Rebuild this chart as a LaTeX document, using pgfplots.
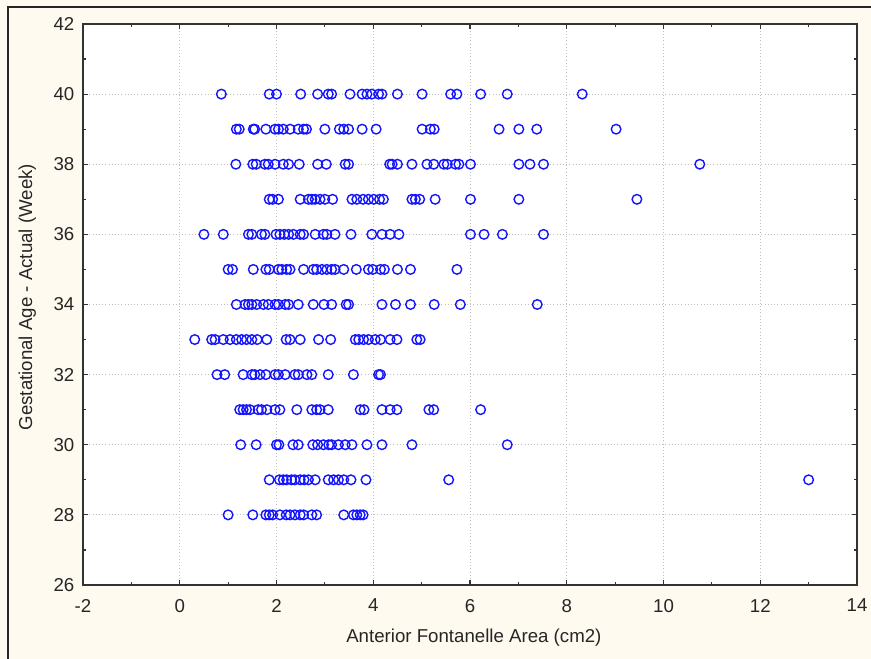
\documentclass[border=0pt]{standalone}
\usepackage{pgfplots}
\pgfplotsset{compat=1.18}
\usepackage{fontspec}
\setmainfont{Liberation Sans}
\definecolor{cream}{RGB}{255,250,240}
\definecolor{ptblue}{RGB}{20,20,255}
\begin{document}
\begin{tikzpicture}[x=1pt,y=1pt]
\fill[cream] (0,0) rectangle (653.25,494.25);
\useasboundingbox (0,0) rectangle (653.25,494.25);
\draw[line width=1.2pt,black!85] (6,0) -- (6,489) -- (653.25,489);
\begin{axis}[
  at={(62.25pt,55.5pt)}, anchor=south west,
  scale only axis, width=580.5pt, height=420.75pt,
  xmin=-2, xmax=14, ymin=26, ymax=42,
  xtick={-2,0,...,14}, ytick={26,28,...,42},
  minor xtick={-1,1,...,13}, minor ytick={27,29,...,41},
  tick align=inside, tick pos=both,
  major tick length=4pt, minor tick length=2.5pt,
  every tick/.style={black!80, line width=0.9pt},
  axis line style={black!80, line width=1.1pt},
  axis background/.style={fill=white},
  grid=major,
  major grid style={gray!50, dotted, line width=0.6pt},
  ticklabel style={font=\fontsize{14}{16}\selectfont, text=black!85},
  /pgf/number format/assume math mode=true,
  xticklabel style={yshift=-7pt},
  yticklabel style={xshift=-3pt},
  xlabel={Anterior Fontanelle Area (cm2)},
  ylabel={Gestational Age - Actual (Week)},
  label style={font=\fontsize{14}{16}\selectfont, text=black!85},
  xlabel style={at={(axis description cs:0.505,-0.093)}, anchor=center},
  ylabel style={at={(axis description cs:-0.072,0.513)}, anchor=center, rotate=0},
]
\addplot[only marks, mark=o, mark size=3.6pt, mark options={ptblue, line width=1.05pt}] coordinates {
(0.86,40)(1.85,40)(2.0,40)(2.5,40)(2.85,40)(3.07,40)(3.14,40)(3.52,40)(3.77,40)(3.87,40)(3.97,40)(4.11,40)(4.18,40)(4.5,40)(5.01,40)(5.6,40)(5.73,40)(6.22,40)(6.77,40)(8.32,40)
(1.17,39)(1.23,39)(1.52,39)(1.55,39)(1.78,39)(1.97,39)(2.04,39)(2.14,39)(2.28,39)(2.45,39)(2.56,39)(2.62,39)(3.0,39)(3.3,39)(3.39,39)(3.49,39)(3.77,39)(4.06,39)(5.01,39)(5.18,39)(5.26,39)(6.6,39)(7.01,39)(7.38,39)(9.02,39)
(1.16,38)(1.51,38)(1.58,38)(1.76,38)(1.83,38)(1.97,38)(2.14,38)(2.25,38)(2.47,38)(2.85,38)(3.03,38)(3.42,38)(3.49,38)(4.34,38)(4.39,38)(4.5,38)(4.8,38)(5.11,38)(5.25,38)(5.46,38)(5.53,38)(5.7,38)(5.77,38)(6.01,38)(7.01,38)(7.24,38)(7.52,38)(10.75,38)
(1.85,37)(1.92,37)(2.04,37)(2.49,37)(2.66,37)(2.73,37)(2.8,37)(2.9,37)(3.0,37)(3.16,37)(3.56,37)(3.66,37)(3.79,37)(3.9,37)(4.01,37)(4.13,37)(4.21,37)(4.8,37)(4.87,37)(4.96,37)(5.28,37)(6.01,37)(7.01,37)(9.45,37)
(0.5,36)(0.9,36)(1.42,36)(1.49,36)(1.69,36)(1.76,36)(1.99,36)(2.07,36)(2.16,36)(2.25,36)(2.35,36)(2.49,36)(2.56,36)(2.8,36)(2.97,36)(3.04,36)(3.21,36)(3.54,36)(3.97,36)(4.18,36)(4.35,36)(4.53,36)(6.01,36)(6.29,36)(6.67,36)(7.52,36)
(1.0,35)(1.09,35)(1.52,35)(1.78,35)(1.85,35)(2.04,35)(2.11,35)(2.21,35)(2.28,35)(2.56,35)(2.76,35)(2.83,35)(2.94,35)(3.04,35)(3.14,35)(3.21,35)(3.39,35)(3.65,35)(3.9,35)(3.99,35)(4.15,35)(4.23,35)(4.5,35)(4.77,35)(5.73,35)
(1.17,34)(1.35,34)(1.42,34)(1.49,34)(1.59,34)(1.73,34)(1.83,34)(1.97,34)(2.04,34)(2.18,34)(2.25,34)(2.45,34)(2.76,34)(2.98,34)(3.14,34)(3.44,34)(3.49,34)(4.18,34)(4.46,34)(4.77,34)(5.26,34)(5.8,34)(7.39,34)
(0.31,33)(0.66,33)(0.73,33)(0.9,33)(1.04,33)(1.17,33)(1.28,33)(1.38,33)(1.49,33)(1.6,33)(1.8,33)(2.2,33)(2.28,33)(2.49,33)(2.87,33)(3.12,33)(3.63,33)(3.7,33)(3.8,33)(3.9,33)(4.04,33)(4.15,33)(4.35,33)(4.49,33)(4.9,33)(4.97,33)
(0.77,32)(0.93,32)(1.31,32)(1.49,32)(1.55,32)(1.66,32)(1.78,32)(1.97,32)(2.04,32)(2.18,32)(2.38,32)(2.45,32)(2.63,32)(2.73,32)(3.07,32)(3.59,32)(4.11,32)(4.15,32)
(1.24,31)(1.31,31)(1.38,31)(1.45,31)(1.62,31)(1.69,31)(1.8,31)(1.97,31)(2.07,31)(2.42,31)(2.73,31)(2.83,31)(2.9,31)(3.07,31)(3.73,31)(3.81,31)(4.18,31)(4.35,31)(4.49,31)(5.15,31)(5.25,31)(6.22,31)
(1.26,30)(1.58,30)(2.0,30)(2.05,30)(2.34,30)(2.45,30)(2.75,30)(2.85,30)(2.97,30)(3.08,30)(3.14,30)(3.28,30)(3.42,30)(3.56,30)(3.87,30)(4.18,30)(4.8,30)(6.77,30)
(1.85,29)(2.06,29)(2.14,29)(2.21,29)(2.31,29)(2.38,29)(2.49,29)(2.57,29)(2.66,29)(2.8,29)(3.07,29)(3.18,29)(3.28,29)(3.39,29)(3.54,29)(3.85,29)(5.56,29)(13.0,29)
(1.0,28)(1.51,28)(1.78,28)(1.85,28)(1.92,28)(2.07,28)(2.2,28)(2.28,28)(2.38,28)(2.49,28)(2.56,28)(2.73,28)(2.83,28)(3.39,28)(3.59,28)(3.66,28)(3.73,28)(3.79,28)
};
\end{axis}
\end{tikzpicture}
\end{document}
